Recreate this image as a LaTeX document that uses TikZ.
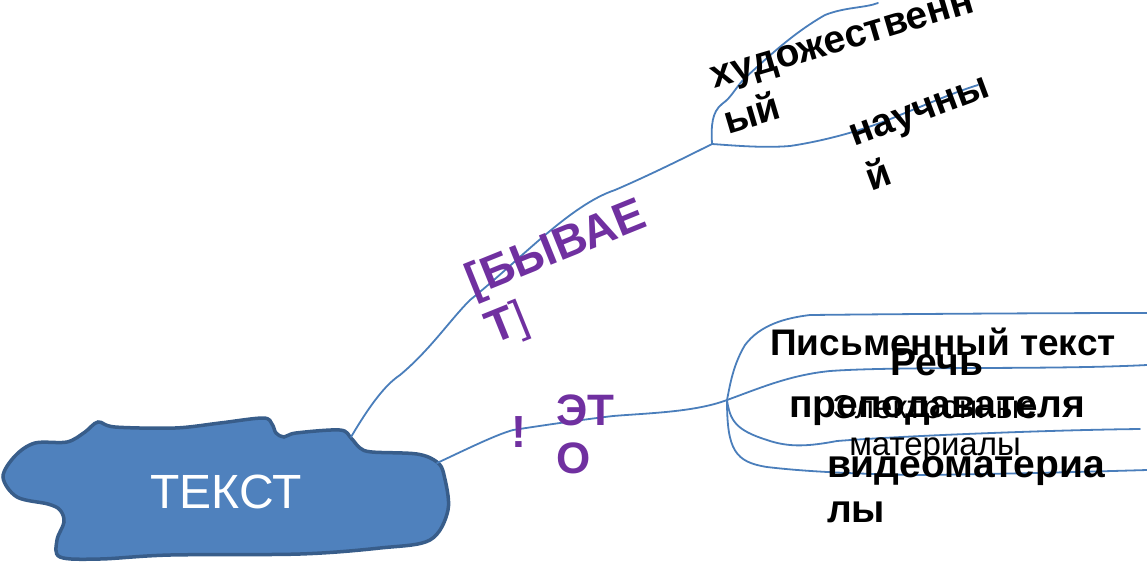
\documentclass[tikz,border=0pt]{standalone}
\usepackage{fontspec}
\setmainfont{Liberation Sans}
\definecolor{conn}{HTML}{4A7EBB}
\definecolor{blobfill}{HTML}{4F81BD}
\definecolor{blobedge}{HTML}{385D8A}
\definecolor{purp}{HTML}{7030A0}
\newcommand\myfs[2]{\fontsize{#1}{#2}\selectfont}
\tikzset{
  conline/.style={draw=conn, line width=1.8pt, line cap=round, line join=round},
  lbl/.style={inner sep=0pt, outer sep=0pt, font=\bfseries},
  plbl/.style={lbl, text=purp},
}
\begin{document}
\begin{tikzpicture}[x=1pt,y=-1pt]
\useasboundingbox (0,0) rectangle (1147,563);
% blob
\path[fill=blobfill, draw=blobedge, line width=3.5pt]
  plot[smooth cycle, tension=0.55] coordinates {
  (3,477) (15,456) (35,443) (67,442) (85,432) (98,422) (115,427) (175,428)
  (220,423) (263,418) (272,424) (276,433) (284,437) (296,433) (340,430)
  (351,438) (360,448) (372,452) (417,454) (437,462) (444,475) (448,510)
  (430,540) (380,548) (300,554) (170,555) (100,559) (60,557) (57,540)
  (64,522) (60,510) (48,504) (17,497)};
\node[inner sep=0pt, text=white, font=\myfs{48}{54}, anchor=base] (blob) at (226,508) {ТЕКСТ};
% hubs and ends
\coordinate (blobA) at (351,437);
\coordinate (blobB) at (437,463);
\coordinate (hubA) at (712,144);
\coordinate (hubB) at (727,400);
\coordinate (endA1) at (878,3);
\coordinate (endA2) at (978,85);
\coordinate (endB1) at (1147,313);
\coordinate (endB2) at (1147,365);
\coordinate (endB3) at (1140,429);
\coordinate (endB4) at (1147,470);
% upper branch
\draw[conline] (blobA) .. controls (370,405) and (385,385) .. (400,375)
  .. controls (430,350) and (450,320) .. (470,300)
  .. controls (520,260) and (570,205) .. (615,190)
  .. controls (650,175) and (690,155) .. (hubA);
\draw[conline] (hubA) .. controls (711,125) and (712,112) .. (722,104)
  .. controls (732,97) and (735,88) .. (745,78)
  .. controls (770,55) and (795,32) .. (825,15)
  .. controls (845,7) and (865,8) .. (endA1);
\draw[conline] (hubA) .. controls (740,146) and (765,148) .. (790,146)
  .. controls (830,140) and (870,128) .. (900,115)
  .. controls (930,103) and (955,92) .. (endA2);
% lower branch
\draw[conline] (blobB) .. controls (465,450) and (495,435) .. (513,430)
  .. controls (545,425) and (580,420) .. (613,416)
  .. controls (650,413) and (695,412) .. (hubB);
\draw[conline] (hubB) .. controls (730,385) and (733,365) .. (745,345)
  .. controls (760,325) and (785,318) .. (810,315)
  .. controls (900,314) and (1050,313) .. (endB1);
\draw[conline] (hubB) .. controls (760,388) and (790,375) .. (830,371)
  .. controls (900,366) and (1050,370) .. (endB2);
\draw[conline] (hubB) .. controls (730,420) and (735,430) .. (767,440)
  .. controls (790,448) and (810,446) .. (837,441)
  .. controls (900,436) and (1050,430) .. (endB3);
\draw[conline] (hubB) .. controls (727,450) and (735,462) .. (767,467)
  .. controls (800,471) and (850,474) .. (920,475)
  .. controls (1000,474) and (1080,472) .. (endB4);
% labels upper (anchor = baseline of the last line)
\node[lbl, rotate=16.5, anchor=base west, align=left, font=\bfseries\myfs{39}{47}] (lArt) at (728,134) {художественн\\ый};
\node[lbl, rotate=20.4, anchor=base west, align=left, font=\bfseries\myfs{39}{47}] (lSci) at (871,191) {научны\\й};
\node[plbl, rotate=22, anchor=base west, align=left, font=\bfseries\myfs{46}{51}] (lIs) at (493,344) {[БЫВАЕ\\Т{\mdseries]}};
% labels lower
\node[plbl, anchor=base, font=\bfseries\myfs{45}{48}] (lExcl) at (519,447) {!};
\node[plbl, anchor=base west, align=left, font=\bfseries\myfs{44}{48}] (lEto) at (556,473) {ЭТ\\О};
\node[lbl, anchor=base, font=\bfseries\myfs{37}{42}] (lWrit) at (943,355) {Письменный текст};
\node[lbl, anchor=base, align=center, font=\bfseries\myfs{39}{42}] (lSpeech) at (937,417) {Речь\\преподавателя};
\node[lbl, anchor=base, align=center, font=\mdseries\myfs{33}{37}] (lElec) at (935,455) {Электронные\\материалы};
\node[lbl, anchor=base west, align=left, font=\bfseries\myfs{39}{45}] (lVid) at (827,522) {видеоматериа\\лы};
\end{tikzpicture}
\end{document}
